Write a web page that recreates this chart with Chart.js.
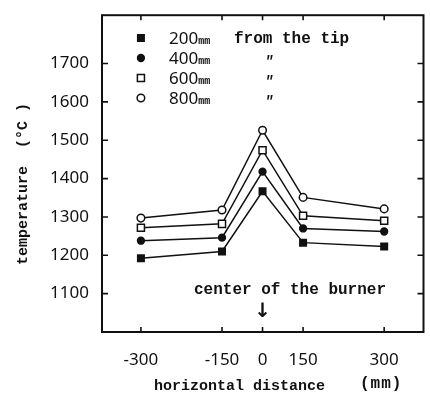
<!DOCTYPE html>
<html>
<head>
<meta charset="utf-8">
<script src="https://cdn.jsdelivr.net/npm/chart.js@4"></script>
<style>
  html, body { margin: 0; padding: 0; background: #fff; }
  #wrap { width: 430px; height: 400px; }
</style>
</head>
<body>
<div id="wrap"><canvas id="c" width="430" height="400"></canvas></div>
<script>
'use strict';

/* ── Data ─────────────────────────────────────────────────────────── */
const distances  = [-300, -150, 0, 150, 300];     // tick labels, mm
const axisPos    = [-3, -1, 0, 1, 3];             // original axis is squeezed near the centre
const yTicks     = [1100, 1200, 1300, 1400, 1500, 1600, 1700];
const heights    = ['200', '400', '600', '800'];  // mm from the tip
const t200 = [1192, 1210, 1367, 1233, 1223];
const t400 = [1238, 1246, 1418, 1270, 1262];
const t600 = [1272, 1282, 1474, 1303, 1290];
const t800 = [1297, 1318, 1526, 1351, 1321];

const INK   = '#111';
const MONO  = '"Liberation Mono", "DejaVu Sans Mono", monospace';
const SANS  = '"Noto Sans", "DejaVu Sans", sans-serif';

const STYLES = [
  { pointStyle: 'rect',   radius: 4.6, fill: INK },
  { pointStyle: 'circle', radius: 3.4, fill: INK },
  { pointStyle: 'rect',   radius: 5.0, fill: '#fff' },
  { pointStyle: 'circle', radius: 3.8, fill: '#fff' },
];

function pts(vals) {
  return vals.map((v, i) => ({ x: axisPos[i], y: v }));
}

const datasets = [t200, t400, t600, t800].map((vals, k) => ({
  label:                heights[k] + 'mm',
  data:                 pts(vals),
  borderColor:          INK,
  borderWidth:          1.5,
  pointStyle:           STYLES[k].pointStyle,
  pointRadius:          STYLES[k].radius,
  pointBackgroundColor: STYLES[k].fill,
  pointBorderColor:     INK,
  pointBorderWidth:     1.5,
  tension:              0,
  fill:                 false,
}));

/* ── Frame, inward ticks, legend and captions ─────────────────────── */
const paperPlugin = {
  id: 'paper',
  afterDraw(chart) {
    const { ctx, chartArea: a, scales: { x, y } } = chart;
    ctx.save();
    ctx.strokeStyle = INK;
    ctx.fillStyle   = INK;

    // box
    ctx.lineWidth = 2;
    ctx.strokeRect(a.left, a.top, a.right - a.left, a.bottom - a.top);

    // inward ticks
    ctx.lineWidth = 1.6;
    ctx.beginPath();
    yTicks.forEach(v => {
      const py = y.getPixelForValue(v);
      ctx.moveTo(a.left, py);  ctx.lineTo(a.left + 6, py);
      ctx.moveTo(a.right, py); ctx.lineTo(a.right - 6, py);
    });
    axisPos.forEach(p => {
      const px = x.getPixelForValue(p);
      ctx.moveTo(px, a.top);    ctx.lineTo(px, a.top + 5);
      ctx.moveTo(px, a.bottom); ctx.lineTo(px, a.bottom - 5);
    });
    ctx.stroke();

    // legend
    const lx = x.getPixelForValue(axisPos[0]);
    chart.data.datasets.forEach((ds, k) => {
      const ly = 38 + k * 20;
      ctx.lineWidth   = 1.5;
      ctx.fillStyle   = ds.pointBackgroundColor;
      ctx.strokeStyle = INK;
      Chart.helpers.drawPoint(ctx, { pointStyle: ds.pointStyle, radius: ds.pointRadius, borderWidth: 1.5 }, lx, ly);
      ctx.fillStyle    = INK;
      ctx.textBaseline = 'alphabetic';
      ctx.textAlign    = 'left';
      ctx.font = '17px ' + SANS;
      ctx.fillText(heights[k], 169, ly + 6);
      const w = ctx.measureText(heights[k]).width;
      ctx.font = 'bold 10px ' + MONO;
      ctx.fillText('mm', 169 + w, ly + 6);
      if (k === 0) {
        ctx.font = 'bold 16px ' + MONO;
        ctx.fillText('from the tip', 234, ly + 5);
      } else {
        ctx.font = 'bold italic 14px ' + MONO;
        ctx.textAlign = 'center';
        ctx.fillText('"', 269, ly + 8);
      }
    });

    // annotation
    const cx = x.getPixelForValue(0);
    ctx.font = 'bold 16px ' + MONO;
    ctx.textAlign    = 'center';
    ctx.textBaseline = 'middle';
    ctx.fillText('center of the burner', 290, 290);
    ctx.font = 'bold 20px "DejaVu Sans", sans-serif';
    ctx.fillText('\u2193', cx, 312);

    // axis titles
    ctx.textAlign = 'left';
    ctx.font = 'bold 15px ' + MONO;
    ctx.fillText('horizontal distance', 154, 386);
    ctx.font = 'bold 16px ' + MONO;
    if ('letterSpacing' in ctx) ctx.letterSpacing = '1px';
    ctx.fillText('(mm)', 360, 384);
    if ('letterSpacing' in ctx) ctx.letterSpacing = '0px';
    ctx.textAlign = 'center';
    ctx.font = 'bold 15px ' + MONO;
    ctx.save();
    ctx.translate(23, 184);
    ctx.rotate(-Math.PI / 2);
    ctx.fillText('temperature  (\u00b0C )', 0, 0);
    ctx.restore();

    ctx.restore();
  },
};

new Chart(document.getElementById('c'), {
  type: 'line',
  data: { datasets },
  options: {
    responsive:       false,
    animation:        false,
    devicePixelRatio: 1,
    layout: { padding: { top: 10, right: 3, left: 0, bottom: 0 } },
    plugins: { legend: { display: false }, tooltip: { enabled: false } },
    scales: {
      x: {
        type: 'linear',
        min: -3.96,
        max: 3.97,
        grid:   { display: false },
        border: { display: false },
        afterBuildTicks: s => { s.ticks = axisPos.map(v => ({ value: v })); },
        afterFit: s => { s.height = 68; },
        ticks: {
          padding: 10,
          color: INK,
          font: { family: SANS, size: 17 },
          callback: v => {
            const i = axisPos.indexOf(v);
            return i < 0 ? '' : String(distances[i]);
          },
        },
      },
      y: {
        type: 'linear',
        min: 1000,
        max: 1826,
        grid:   { display: false },
        border: { display: false },
        afterBuildTicks: s => { s.ticks = yTicks.map(v => ({ value: v })); },
        afterFit: s => { s.width = 102; },
        ticks: {
          padding: 5,
          color: INK,
          font: { family: SANS, size: 17 },
          callback: v => String(v),
        },
      },
    },
  },
  plugins: [paperPlugin],
});
</script>
</body>
</html>
